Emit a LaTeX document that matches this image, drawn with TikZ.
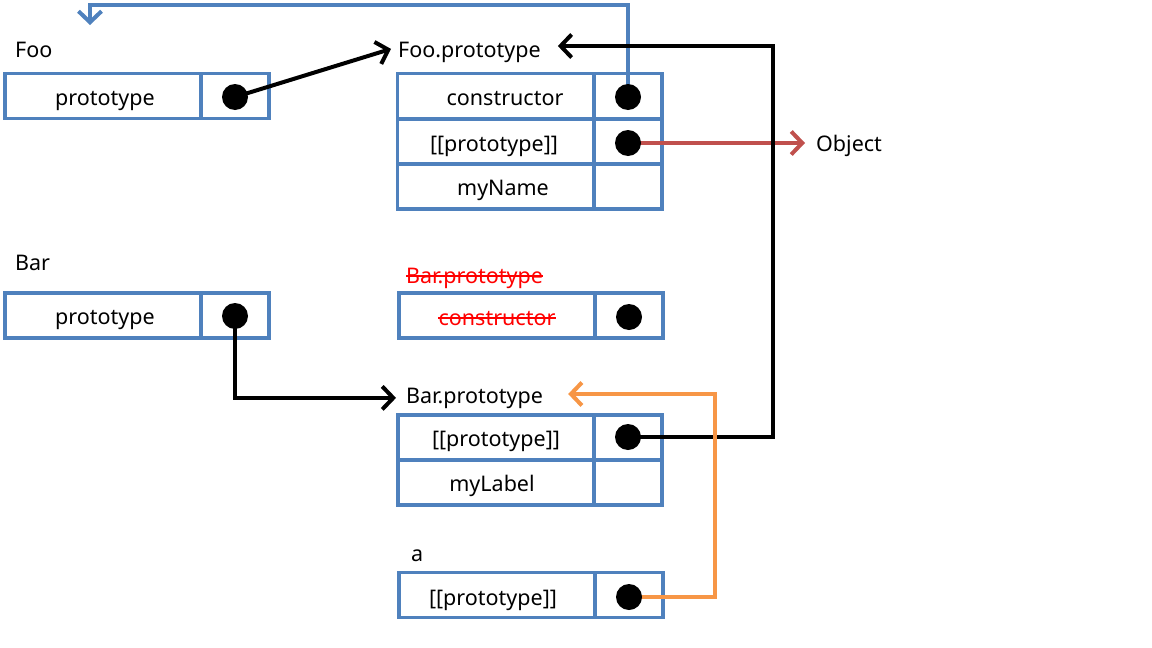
\documentclass[tikz,border=0pt]{standalone}
\usepackage{fontspec}
\setmainfont{Noto Sans}
\usetikzlibrary{arrows.meta}
\definecolor{boxblue}{HTML}{4F81BD}
\definecolor{linkred}{HTML}{C0504D}
\definecolor{linkorange}{HTML}{F79646}
\pgfdeclarelayer{bg}
\pgfdeclarelayer{mid}
\pgfsetlayers{bg,mid,main}
\tikzset{
  cell/.style={draw=boxblue, line width=3.4pt, rectangle, inner sep=0pt, minimum height=45pt},
  keycell/.style={cell, minimum width=196pt},
  valcell/.style={cell, minimum width=68pt},
  dot/.style={circle, fill=black, inner sep=0pt, minimum width=25pt, minimum height=26pt},
  txt/.style={anchor=base, inner sep=3pt, font=\fontsize{21.5}{26}\selectfont},
  lbl/.style={txt, anchor=base west},
  strike/.style={red, line width=1.8pt},
  link/.style={line width=4pt, -{Straight Barb[length=11pt,width=23pt]}},
}
\begin{document}
\begin{tikzpicture}[x=1pt,y=-1pt]
\useasboundingbox (0,0) rectangle (1152,648);
% ---------- cells ----------
\begin{pgfonlayer}{bg}
\fill[white] (0,0) rectangle (1152,648);
\node[keycell] (fook) at (103,96) {};
\node[valcell] (foov) at (235,96) {};
\node[keycell] (fp1k) at (495.5,96) {};
\node[valcell] (fp1v) at (628,96) {};
\node[keycell] (fp2k) at (495.5,141.5) {};
\node[valcell] (fp2v) at (628,141.5) {};
\node[keycell] (fp3k) at (495.5,186.5) {};
\node[valcell] (fp3v) at (628,186.5) {};
\node[keycell] (bark) at (103,315.5) {};
\node[valcell] (barv) at (235,315.5) {};
\node[keycell] (obk) at (497,315.5) {};
\node[valcell] (obv) at (629,315.5) {};
\node[keycell] (bp1k) at (496,437.5) {};
\node[valcell] (bp1v) at (628,437.5) {};
\node[keycell] (bp2k) at (496,482.5) {};
\node[valcell] (bp2v) at (628,482.5) {};
\node[keycell] (ak) at (497,595) {};
\node[valcell] (av) at (629,595) {};
\end{pgfonlayer}
% ---------- texts ----------
\node[lbl] (foolbl) at (12,57) {Foo};
\node[txt] (footxt) at (105,105) {prototype};
\node[lbl] (fpl) at (395,57) {Foo.prototype};
\node[txt] (fpc) at (505,105) {constructor};
\node[txt] (fpp) at (494,151) {[[prototype]]};
\node[txt] (fpn) at (503,195) {myName};
\node[lbl] (objl) at (813,151) {Object};
\node[lbl] (barlbl) at (12,270) {Bar};
\node[txt] (bartxt) at (105,324) {prototype};
\node[lbl, text=red] (obl) at (403,283) {Bar.prototype};
\node[txt, text=red] (obc) at (497,325) {constructor};
\node[lbl] (bpl) at (403,403) {Bar.prototype};
\node[txt] (bpp) at (496,446) {[[prototype]]};
\node[txt] (bpm) at (492,491) {myLabel};
\node[lbl] (alb) at (408,561) {a};
\node[txt] (ap) at (493,605) {[[prototype]]};
% strike-through of the obsolete prototype
\draw[strike] ([xshift=3pt,yshift=7pt]obl.base west) -- ([xshift=-3pt,yshift=7pt]obl.base east);
\draw[strike] ([xshift=3pt,yshift=7pt]obc.base west) -- ([xshift=-3pt,yshift=7pt]obc.base east);
% ---------- dots ----------
\node[dot] (food) at (235,97) {};
\node[dot] (fp1d) at (628,97) {};
\node[dot] (fp2d) at (628,143) {};
\node[dot] (bard) at (235,316) {};
\node[dot] (obd) at (629,317) {};
\node[dot] (bp1d) at (628,437) {};
\node[dot] (ad) at (629,597) {};
% ---------- free ends ----------
\coordinate (bluetop) at (628,5);
\coordinate (blueend) at (90,25);
\coordinate (blackcorner) at (773,46);
\coordinate (orangecorner) at (715,394);
% ---------- connectors ----------
\begin{pgfonlayer}{mid}
\draw[link, boxblue] (fp1d.center) -- (bluetop) -| (blueend);
\draw[link] (food.center) -- ([xshift=-4pt,yshift=3pt]fpl.west);
\draw[link, linkred] (fp2d.center) -- ([xshift=-8pt]objl.west |- fp2d);
\draw[link] (bard.center) |- ([xshift=-7pt]bpl.west);
\draw[link] (bp1d.center) -| (blackcorner) -- ([xshift=14pt]fpl.east |- blackcorner);
\draw[link, linkorange] (ad.center) -| (orangecorner) -- ([xshift=22pt]bpl.east |- orangecorner);
\end{pgfonlayer}
\end{tikzpicture}
\end{document}
